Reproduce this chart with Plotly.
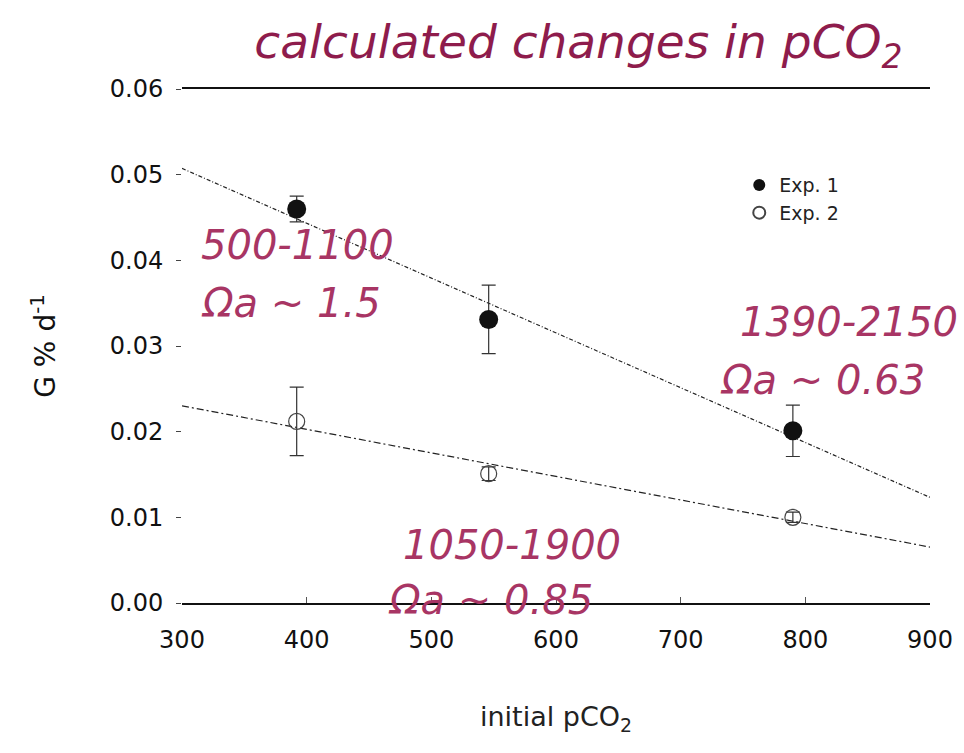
import numpy as np
import plotly.graph_objects as go

# Growth rate (G % d^-1) versus initial pCO2 for two experiments
exp1_pco2 = [392, 546, 790]
exp1_rate = [0.0460, 0.0331, 0.0201]
exp1_err = [0.0015, 0.0040, 0.0030]

exp2_pco2 = [392, 546, 790]
exp2_rate = [0.0212, 0.0151, 0.0100]
exp2_err = [0.0040, 0.0008, 0.0006]

x_ticks = [300, 400, 500, 600, 700, 800, 900]
y_ticks = [0.00, 0.01, 0.02, 0.03, 0.04, 0.05, 0.06]

labels = [
    # (x, y, text, anchor, xshift)
    (314, 0.0418, "500-1100", "left", 0),
    (314, 0.0350, "Ωa ~ 1.5", "left", 0),
    (900, 0.0328, "1390-2150", "right", 30),
    (730, 0.0260, "Ωa ~ 0.63", "left", 0),
    (565, 0.0068, "1050-1900", "center", 0),
    (464, 0.0004, "Ωa ~ 0.85", "left", 0),
]

TEXT_PINK = "#a83564"
TITLE_PINK = "#8e1c4c"

fig = go.Figure()

# least-squares trend lines across the full pCO2 range
fit_x = np.array([300, 900])
for xs, ys, dash in [(exp1_pco2, exp1_rate, "4px,2px,1px,2px"),
                     (exp2_pco2, exp2_rate, "7px,3px,2px,3px")]:
    k, b = np.polyfit(xs, ys, 1)
    fig.add_trace(go.Scatter(
        x=fit_x, y=k * fit_x + b, mode="lines", showlegend=False,
        line=dict(color="#222222", width=1.2, dash=dash), hoverinfo="skip"))

fig.add_trace(go.Scatter(
    x=exp1_pco2, y=exp1_rate, mode="markers", name="Exp. 1",
    marker=dict(symbol="circle", size=19, color="#111111"),
    error_y=dict(type="data", array=exp1_err, color="#333333",
                 thickness=1.2, width=7)))
fig.add_trace(go.Scatter(
    x=exp2_pco2, y=exp2_rate, mode="markers", name="Exp. 2",
    marker=dict(symbol="circle-open", size=16, color="#444444",
                line=dict(width=1.2, color="#444444")),
    error_y=dict(type="data", array=exp2_err, color="#333333",
                 thickness=1.2, width=7)))

for x, y, text, anchor, shift in labels:
    fig.add_annotation(
        x=x, y=y, text=f"<i>{text}</i>", showarrow=False, xanchor=anchor,
        yanchor="middle", xshift=shift,
        font=dict(family="DejaVu Sans", size=40, color=TEXT_PINK))

fig.update_layout(
    width=964, height=753,
    margin=dict(l=182, r=34, t=89, b=150),
    paper_bgcolor="white", plot_bgcolor="white",
    font=dict(family="DejaVu Sans", color="#111111"),
    title=dict(text="<i>calculated changes in pCO<sub>2</sub></i>",
               x=0.6, xanchor="center", y=0.945, yanchor="middle",
               font=dict(family="DejaVu Sans", size=47, color=TITLE_PINK)),
    legend=dict(x=0.745, y=0.85, xanchor="left", yanchor="top",
                bgcolor="rgba(0,0,0,0)", font=dict(size=19, color="#222222"),
                itemsizing="constant", tracegroupgap=2),
    xaxis=dict(range=[300, 900], tickvals=x_ticks,
               ticktext=[str(v) for v in x_ticks],
               showgrid=False, zeroline=False, showline=True, mirror=True,
               linecolor="#111111", linewidth=1.6,
               ticks="inside", ticklen=6, tickcolor="#555555",
               ticklabelstandoff=14,
               tickfont=dict(size=24, color="#111111"),
               title=dict(text="initial pCO<sub>2</sub>", standoff=55,
                          font=dict(size=27, color="#222222"))),
    yaxis=dict(range=[0, 0.06], tickvals=y_ticks,
               ticktext=[f"{v:.2f}" for v in y_ticks],
               showgrid=False, zeroline=False, showline=False,
               ticks="outside", ticklen=5, tickcolor="#444444",
               ticklabelstandoff=8,
               tickfont=dict(size=24, color="#111111"),
               title=dict(text="G % d<sup>-1</sup>", standoff=45,
                          font=dict(size=28, color="#111111"))),
)

fig.write_html("out.html")
